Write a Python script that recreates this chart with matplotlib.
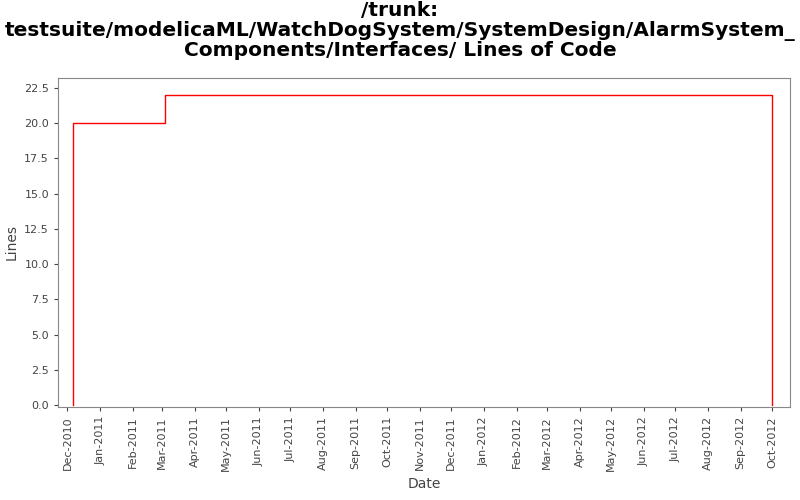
import matplotlib
matplotlib.use("Agg")
import matplotlib.pyplot as plt
import matplotlib.dates as mdates
import datetime as dt

dates = [dt.date(2010, 12, 6), dt.date(2010, 12, 6), dt.date(2011, 3, 4), dt.date(2012, 10, 1), dt.date(2012, 10, 1)]
lines = [0, 20, 22, 22, 0]
yticks = [0.0, 2.5, 5.0, 7.5, 10.0, 12.5, 15.0, 17.5, 20.0, 22.5]

fig = plt.figure(figsize=(8, 5), dpi=100)
ax = fig.add_axes([0.0725, 0.186, 0.915, 0.658])
ax.plot(dates, lines, color="#ff0000", lw=1.0, drawstyle="steps-post")
ax.set_xlim(dt.date(2010, 11, 22), dt.date(2012, 10, 18))
ax.set_ylim(-0.14, 23.2)
ax.set_yticks(yticks)
ax.set_yticklabels([f"{v:.1f}" for v in yticks])
ax.xaxis.set_major_locator(mdates.MonthLocator())
ax.xaxis.set_major_formatter(mdates.DateFormatter("%b-%Y"))
for l in ax.get_xticklabels():
    l.set_rotation(90)
ax.tick_params(labelsize=8, colors="#444444", length=3)
for s in ax.spines.values():
    s.set_color("#888888")
ax.set_xlabel("Date", fontsize=10, color="#444444")
ax.set_ylabel("Lines", fontsize=10, color="#444444")
fig.suptitle("/trunk:\ntestsuite/modelicaML/WatchDogSystem/SystemDesign/AlarmSystem_\nComponents/Interfaces/ Lines of Code",
             fontsize=14.5, fontweight="bold", y=0.998, linespacing=1.05)
fig.savefig("out.png")
